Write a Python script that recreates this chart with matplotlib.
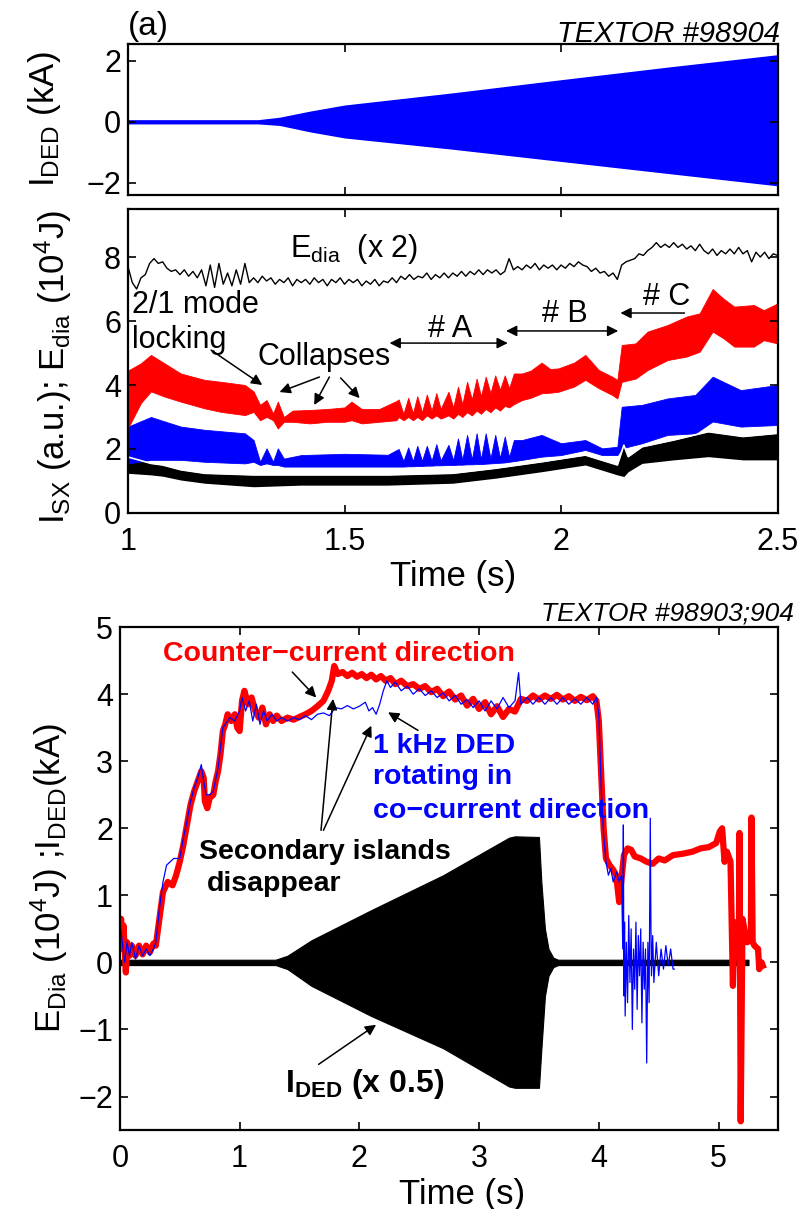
import matplotlib
matplotlib.use("Agg")
import matplotlib.pyplot as plt
import numpy as np

plt.rcParams['font.family'] = ['Liberation Sans', 'DejaVu Sans']
plt.rcParams['mathtext.fontset'] = 'custom'
plt.rcParams['mathtext.rm'] = 'Liberation Sans'
plt.rcParams['mathtext.bf'] = 'Liberation Sans:bold'
plt.rcParams['mathtext.it'] = 'Liberation Sans:italic'
plt.rcParams['mathtext.default'] = 'regular'

# ---------------- panel (a) top: DED coil current envelope ----------------
ded_t = [1.0, 1.3, 1.35, 1.42, 1.5, 1.75, 2.0, 2.25, 2.5]
ded_hi = [0.07, 0.07, 0.15, 0.35, 0.55, 0.95, 1.38, 1.8, 2.2]
ded_lo = [-0.07, -0.07, -0.12, -0.33, -0.53, -0.9, -1.3, -1.7, -2.1]

# ---------------- panel (a) middle: E_dia (x2) and SX channels ----------------
# E_dia read every 10 ms from 1.00 s to 2.50 s
edia_t = np.linspace(1.0, 2.5, 151)
edia_v = [7.7, 7.2, 7.0, 7.35, 7.45, 7.8, 7.95, 7.8, 7.85, 7.65,
          7.55, 7.6, 7.45, 7.6, 7.4, 7.55, 7.35, 7.6, 7.1, 7.75,
          7.05, 7.8, 7.15, 7.5, 7.1, 7.6, 7.15, 7.8, 7.2, 7.35,
          7.2, 7.4, 7.25, 7.35, 7.15, 7.3, 7.2, 7.35, 7.1, 7.3,
          7.2, 7.3, 7.15, 7.35, 7.2, 7.3, 7.1, 7.3, 7.2, 7.35,
          7.15, 7.3, 7.2, 7.3, 7.1, 7.25, 7.15, 7.3, 7.1, 7.25,
          7.2, 7.35, 7.2, 7.4, 7.3, 7.45, 7.3, 7.4, 7.35, 7.5,
          7.3, 7.45, 7.35, 7.5, 7.35, 7.5, 7.4, 7.55, 7.4, 7.55,
          7.45, 7.6, 7.45, 7.6, 7.5, 7.6, 7.45, 7.55, 7.95, 7.6,
          7.7, 7.6, 7.75, 7.65, 7.8, 7.6, 7.75, 7.65, 7.75, 7.6,
          7.75, 7.65, 7.8, 7.7, 7.85, 7.75, 7.7, 7.55, 7.65, 7.5,
          7.55, 7.4, 7.5, 7.3, 7.75, 7.85, 7.9, 7.95, 8.1, 8.05,
          8.2, 8.3, 8.45, 8.3, 8.4, 8.3, 8.45, 8.3, 8.4, 8.25,
          8.35, 8.2, 8.4, 8.2, 8.1, 8.25, 8.05, 8.2, 8.1, 8.25,
          8.1, 8.3, 8.1, 8.2, 7.85, 8.15, 8.0, 8.15, 7.95, 8.1,
          8.05]

sx1_t = [1.0, 1.03, 1.053, 1.084, 1.122, 1.177, 1.215, 1.27, 1.29, 1.305, 1.32,
         1.335, 1.346, 1.36, 1.38, 1.42, 1.46, 1.50, 1.516, 1.54, 1.58, 1.62,
         1.625, 1.636, 1.647, 1.658, 1.668, 1.679, 1.69, 1.701, 1.712, 1.722,
         1.74, 1.751, 1.762, 1.772, 1.783, 1.794, 1.805, 1.815, 1.826, 1.837,
         1.848, 1.859, 1.87, 1.88, 1.891, 1.91, 1.93, 1.955, 1.975, 1.994, 2.03,
         2.056, 2.087, 2.118, 2.13, 2.14, 2.172, 2.2, 2.246, 2.29, 2.32, 2.35,
         2.375, 2.4, 2.445, 2.468, 2.5]
sx1_hi = [4.45, 4.68, 4.94, 4.68, 4.36, 4.16, 4.10, 4.0, 3.8, 3.38, 3.53,
          3.11, 3.48, 3.0, 3.2, 3.22, 3.25, 3.3, 3.48, 3.25, 3.25, 3.5,
          3.55, 3.1, 3.6, 3.12, 3.65, 3.15, 3.7, 3.2, 3.75, 3.25,
          3.79, 3.3, 3.95, 3.4, 4.1, 3.55, 4.2, 3.65, 4.26, 3.75,
          4.3, 3.85, 4.3, 3.9, 4.36, 4.36, 4.45, 4.7, 4.5, 4.52, 4.7,
          4.94, 4.47, 4.26, 4.16, 5.25, 5.3, 5.67, 5.875, 6.14, 6.24, 7.0,
          6.7, 6.45, 6.5, 6.34, 6.55]
sx1_lo = [2.65, 3.44, 3.8, 3.64, 3.48, 3.27, 3.16, 3.06, 3.16, 2.9, 3.0,
          2.9, 2.64, 2.85, 2.85, 2.8, 2.85, 2.85, 2.9, 2.8, 2.85, 2.9,
          3.0, 2.9, 3.0, 2.9, 3.0, 2.9, 3.05, 2.95, 3.05, 2.95,
          3.05, 2.95, 3.1, 3.0, 3.15, 3.05, 3.2, 3.1, 3.25, 3.15,
          3.3, 3.2, 3.35, 3.3, 3.4, 3.53, 3.6, 3.74, 3.76, 3.79, 3.95,
          4.16, 3.9, 3.69, 3.58, 4.1, 4.2, 4.47, 4.78, 4.89, 5.04, 5.67,
          5.46, 5.2, 5.2, 5.4, 5.3]

sx2_t = [1.0, 1.053, 1.122, 1.177, 1.27, 1.29, 1.305, 1.32, 1.335, 1.346, 1.36,
         1.40, 1.50, 1.60, 1.625, 1.636, 1.647, 1.658, 1.668, 1.679, 1.69,
         1.701, 1.712, 1.722, 1.74, 1.751, 1.762, 1.772, 1.783, 1.794, 1.805,
         1.815, 1.826, 1.837, 1.848, 1.859, 1.87, 1.88, 1.891, 1.91, 1.955,
         2.0, 2.056, 2.095, 2.13, 2.14, 2.187, 2.246, 2.31, 2.35, 2.415, 2.5]
sx2_hi = [2.7, 3.0, 2.7, 2.6, 2.49, 2.28, 1.6, 2.02, 1.6, 2.02, 1.7,
          1.81, 1.85, 1.82, 2.0, 1.62, 2.05, 1.62, 2.1, 1.63, 2.1,
          1.63, 2.15, 1.64, 2.13, 1.65, 2.33, 1.66, 2.44, 1.67, 2.49,
          1.68, 2.49, 1.7, 2.44, 1.72, 2.39, 1.75, 2.28, 2.28, 2.44,
          2.18, 2.28, 2.02, 2.07, 3.32, 3.38, 3.58, 3.69, 4.26, 3.84, 4.0]
sx2_lo = [1.55, 1.66, 1.66, 1.6, 1.55, 1.6, 1.5, 1.55, 1.5, 1.5, 1.45,
          1.45, 1.45, 1.45, 1.45, 1.45, 1.46, 1.46, 1.47, 1.47, 1.48,
          1.48, 1.49, 1.49, 1.5, 1.5, 1.51, 1.51, 1.52, 1.52, 1.53,
          1.53, 1.54, 1.55, 1.56, 1.57, 1.58, 1.6, 1.62, 1.66, 1.76,
          1.81, 1.97, 1.81, 1.81, 2.02, 2.18, 2.44, 2.49, 2.86, 2.7, 2.75]

sx3_t = [1.0, 1.053, 1.08, 1.122, 1.177, 1.29, 1.4, 1.6, 1.75, 1.85, 1.955,
         2.056, 2.13, 2.145, 2.155, 2.187, 2.26, 2.34, 2.42, 2.5]
sx3_hi = [1.75, 1.55, 1.5, 1.35, 1.24, 1.19, 1.19, 1.19, 1.24, 1.4, 1.6,
          1.81, 1.5, 2.12, 1.76, 2.07, 2.28, 2.54, 2.39, 2.49]
sx3_lo = [1.24, 1.19, 1.15, 1.03, 0.93, 0.82, 0.87, 0.87, 0.93, 1.09, 1.29,
          1.5, 1.19, 1.14, 1.29, 1.55, 1.66, 1.76, 1.66, 1.66]

# ---------------- bottom panel: E_dia for two shots and I_DED (x0.5) ----------------
ctr_t = [0.00, 0.01, 0.02, 0.03, 0.05, 0.06, 0.08, 0.10, 0.13, 0.16, 0.19, 0.22,
         0.25, 0.28, 0.30, 0.33, 0.36, 0.40, 0.44, 0.47, 0.50, 0.53, 0.56, 0.59,
         0.62, 0.65, 0.68, 0.70, 0.71, 0.73, 0.75, 0.78, 0.80, 0.82, 0.84, 0.86,
         0.88, 0.90, 0.93, 0.96, 0.98, 1.00, 1.02, 1.04, 1.07, 1.10, 1.13, 1.16,
         1.19, 1.22, 1.25, 1.28, 1.31, 1.35, 1.40, 1.45, 1.50, 1.55, 1.60, 1.65,
         1.70, 1.74, 1.77, 1.79, 1.82, 1.86, 1.90, 1.94, 1.98, 2.02, 2.06, 2.10,
         2.14, 2.18, 2.22, 2.26, 2.30, 2.35, 2.40, 2.45, 2.50, 2.55, 2.60, 2.65,
         2.70, 2.75, 2.80, 2.85, 2.90, 2.95, 3.00, 3.05, 3.10, 3.15, 3.20, 3.25,
         3.30, 3.35, 3.40, 3.45, 3.50, 3.55, 3.60, 3.65, 3.70, 3.75, 3.80, 3.85,
         3.90, 3.95, 3.98, 4.00, 4.02, 4.04, 4.06, 4.09, 4.12, 4.145, 4.17, 4.19,
         4.21, 4.24, 4.27, 4.30, 4.35, 4.40, 4.45, 4.50, 4.55, 4.62, 4.70, 4.78,
         4.85, 4.92, 4.98, 5.01, 5.03, 5.05, 5.07, 5.10, 5.12, 5.135, 5.15, 5.17,
         5.175, 5.185, 5.20, 5.22, 5.24, 5.27, 5.275, 5.285, 5.30, 5.33, 5.34,
         5.36, 5.37]
ctr_v = [0.35, 0.65, 0.2, 0.55, -0.15, 0.3, 0.1, 0.25, 0.1, 0.25, 0.12, 0.25,
         0.15, 0.28, 0.25, 0.65, 1.05, 1.2, 1.15, 1.3, 1.5, 1.75, 2.05, 2.35,
         2.55, 2.7, 2.85, 2.75, 2.4, 2.3, 2.45, 2.5, 2.7, 2.85, 3.1, 3.45,
         3.55, 3.7, 3.6, 3.7, 3.5, 3.45, 3.9, 4.05, 3.85, 3.95, 3.75, 3.65,
         3.8, 3.55, 3.7, 3.6, 3.68, 3.6, 3.65, 3.62, 3.66, 3.7, 3.75, 3.82,
         3.9, 4.05, 4.2, 4.42, 4.3, 4.33, 4.27, 4.32, 4.26, 4.3, 4.24, 4.29,
         4.22, 4.27, 4.2, 4.24, 4.15, 4.2, 4.12, 4.15, 4.08, 4.12, 4.03, 4.08,
         3.97, 4.04, 3.92, 3.98, 3.83, 3.93, 3.78, 3.88, 3.7, 3.82, 3.66, 3.78,
         3.74, 3.93, 3.9, 3.98, 3.92, 3.98, 3.93, 3.99, 3.92, 3.97, 3.9, 3.96,
         3.91, 3.97, 3.9, 3.6, 2.8, 2.0, 1.55, 1.45, 1.38, 1.3, 0.9, 1.25,
         1.6, 1.7, 1.68, 1.58, 1.55, 1.5, 1.47, 1.55, 1.52, 1.6, 1.62, 1.65,
         1.7, 1.72, 1.78, 1.95, 2.0, 1.5, 1.65, 1.5, -0.35, 0.6, 0.1, 0.3,
         1.93, -2.37, 0.65, 0.45, 0.3, 0.4, 2.16, 0.3, 0.25, 0.2, -0.1,
         0.0, -0.05]

co_t = [0.00, 0.02, 0.04, 0.06, 0.08, 0.10, 0.13, 0.16, 0.19, 0.22, 0.25, 0.28,
        0.30, 0.33, 0.36, 0.39, 0.45, 0.50, 0.53, 0.56, 0.59, 0.62, 0.65, 0.68,
        0.70, 0.72, 0.75, 0.78, 0.82, 0.86, 0.88, 0.92, 0.96, 1.00, 1.02, 1.05,
        1.08, 1.11, 1.14, 1.17, 1.20, 1.23, 1.27, 1.31, 1.35, 1.40, 1.45, 1.50,
        1.55, 1.60, 1.65, 1.70, 1.75, 1.80, 1.85, 1.90, 1.95, 2.00, 2.05, 2.08,
        2.11, 2.14, 2.17, 2.20, 2.23, 2.26, 2.30, 2.35, 2.40, 2.45, 2.50, 2.55,
        2.60, 2.65, 2.70, 2.75, 2.80, 2.85, 2.90, 2.95, 3.00, 3.05, 3.10, 3.15,
        3.20, 3.25, 3.30, 3.33, 3.35, 3.40, 3.45, 3.50, 3.55, 3.60, 3.65, 3.70,
        3.75, 3.80, 3.85, 3.90, 3.95, 3.98, 4.00, 4.02, 4.04, 4.06, 4.08, 4.10,
        4.12, 4.15, 4.17, 4.19, 4.20, 4.205, 4.21, 4.215, 4.22, 4.23, 4.24, 4.25,
        4.26, 4.27, 4.28, 4.29, 4.30, 4.31, 4.32, 4.33, 4.34, 4.35, 4.36, 4.37,
        4.38, 4.39, 4.40, 4.41, 4.42, 4.43, 4.435, 4.44, 4.45, 4.46, 4.48, 4.50,
        4.52, 4.54, 4.56, 4.58, 4.60, 4.62, 4.63]
co_v = [0.6, 0.3, 0.0, 0.3, 0.1, 0.3, 0.05, 0.25, 0.1, 0.2, 0.1, 0.2,
        0.3, 0.8, 1.2, 1.45, 1.55, 1.55, 1.85, 2.1, 2.4, 2.6, 2.75, 2.95,
        2.7, 2.5, 2.5, 2.55, 2.9, 3.5, 3.55, 3.65, 3.6, 3.75, 3.95, 3.75,
        3.9, 3.6, 3.85, 3.55, 3.75, 3.6, 3.7, 3.6, 3.65, 3.6, 3.65, 3.62,
        3.68, 3.62, 3.7, 3.72, 3.68, 3.8, 3.78, 3.83, 3.78, 3.82, 3.88, 3.75,
        3.8, 3.7, 3.85, 4.05, 4.2, 4.1, 4.18, 4.05, 4.12, 4.0, 4.08, 3.98,
        4.05, 3.95, 4.02, 3.9, 3.98, 3.85, 3.92, 3.8, 3.9, 3.75, 3.9, 3.78,
        3.95, 3.8, 3.9, 4.32, 3.85, 3.95, 3.85, 3.95, 3.85, 3.95, 3.85, 3.95,
        3.85, 3.93, 3.85, 3.95, 3.85, 3.95, 3.7, 2.6, 1.9, 1.5, 1.3, 1.4,
        1.2, 1.35, 1.2, 1.3, 0.2, 2.05, -0.5, 0.6, -0.8, 0.3, -0.6, 0.7,
        -0.3, 0.5, -1.0, 0.2, -0.4, 0.6, -0.7, 0.4, -0.2, 0.5, -0.9, 0.3,
        -0.4, 0.2, -1.5, 0.3, -0.6, 2.15, 0.6, -0.2, 0.4, -0.3, 0.3, -0.2,
        0.2, -0.1, 0.25, -0.05, 0.2, -0.1, -0.1]

ided_t = [0.0, 1.3, 1.4, 1.6, 2.1, 2.7, 3.25, 3.3, 3.5, 3.52, 3.55, 3.58, 3.62, 3.66, 5.25]
ided_hi = [0.04, 0.04, 0.1, 0.33, 0.78, 1.3, 1.86, 1.88, 1.87, 1.2, 0.5, 0.2, 0.07, 0.04, 0.04]
ided_lo = [-0.04, -0.04, -0.1, -0.35, -0.8, -1.28, -1.85, -1.87, -1.87, -1.3, -0.5, -0.2, -0.07, -0.04, -0.04]

BLUE = '#0000ff'
RED = '#ff0000'
TICK_FS = 22
LABEL_FS = 25
NOTE_FS = 22

fig = plt.figure(figsize=(8.1, 12.09), dpi=100)


def style(ax):
    for s in ax.spines.values():
        s.set_linewidth(1.6)
    ax.tick_params(direction='in', length=6, width=1.2, top=True, right=True,
                   labelsize=TICK_FS)
    ax.tick_params(axis='x', pad=10)
    ax.tick_params(axis='y', pad=5)


# ---- top ----
ax1 = fig.add_axes([0.158, 0.8387, 0.802, 0.1249])
ax1.fill_between(ded_t, ded_lo, ded_hi, color=BLUE, lw=0)
ax1.set_xlim(1, 2.5)
ax1.set_ylim(-2.4, 2.55)
ax1.set_xticks([1, 1.5, 2, 2.5])
ax1.set_xticklabels([])
ax1.set_yticks([-2, 0, 2])
ax1.set_yticklabels(['\u22122', '0', '2'])
style(ax1)
ax1.set_ylabel('I$_{DED}$ (kA)', fontsize=LABEL_FS)
ax1.yaxis.set_label_coords(-0.1, 0.5)
fig.text(0.158, 0.978, '(a)', fontsize=24, ha='left', va='center')
fig.text(0.963, 0.972, 'TEXTOR #98904', fontsize=21, style='italic',
         ha='right', va='center')

# ---- middle ----
ax2 = fig.add_axes([0.158, 0.5757, 0.802, 0.2514])
ax2.fill_between(sx3_t, sx3_lo, sx3_hi, color='k', lw=0)
ax2.plot(sx3_t, sx3_hi, color='white', lw=1.2)
ax2.fill_between(sx2_t, sx2_lo, sx2_hi, color=BLUE, lw=0.6, edgecolor=BLUE)
ax2.fill_between(sx1_t, sx1_lo, sx1_hi, color=RED, lw=0.6, edgecolor=RED)
ax2.plot(edia_t, edia_v, color='k', lw=1)
ax2.set_xlim(1, 2.5)
ax2.set_ylim(0, 9.5)
ax2.set_xticks([1, 1.5, 2, 2.5])
ax2.set_xticklabels(['1', '1.5', '2', '2.5'])
ax2.set_yticks([0, 2, 4, 6, 8])
style(ax2)
ax2.set_xlabel('Time (s)', fontsize=LABEL_FS, labelpad=2)
ax2.set_ylabel('I$_{SX}$ (a.u.); E$_{dia}$ (10$^{4}$J)', fontsize=LABEL_FS)
ax2.yaxis.set_label_coords(-0.083, 0.48)

ax2.text(1.373, 8.0, 'E$_{dia}$  (x 2)', fontsize=NOTE_FS, ha='left', va='baseline')
ax2.text(1.01, 6.25, '2/1 mode', fontsize=NOTE_FS, ha='left', va='baseline')
ax2.text(1.01, 5.16, 'locking', fontsize=NOTE_FS, ha='left', va='baseline')
ax2.text(1.299, 4.62, 'Collapses', fontsize=NOTE_FS, ha='left', va='baseline')
ax2.text(1.743, 5.5, '# A', fontsize=NOTE_FS, ha='center', va='baseline')
ax2.text(2.009, 5.97, '# B', fontsize=NOTE_FS, ha='center', va='baseline')
ax2.text(2.243, 6.5, '# C', fontsize=NOTE_FS, ha='center', va='baseline')

arr = dict(arrowstyle='-|>', color='k', lw=1.1, mutation_scale=16, shrinkA=0, shrinkB=0)
arr2 = dict(arrowstyle='<|-|>', color='k', lw=1.1, mutation_scale=16, shrinkA=0, shrinkB=0)
ax2.annotate('', xy=(1.877, 5.31), xytext=(1.604, 5.31), arrowprops=arr2)
ax2.annotate('', xy=(2.132, 5.69), xytext=(1.873, 5.69), arrowprops=arr2)
ax2.annotate('', xy=(2.137, 6.25), xytext=(2.285, 6.25), arrowprops=arr)
ax2.annotate('', xy=(1.31, 4.0), xytext=(1.192, 5.09), arrowprops=arr)
ax2.annotate('', xy=(1.35, 3.78), xytext=(1.442, 4.25), arrowprops=arr)
ax2.annotate('', xy=(1.43, 3.375), xytext=(1.465, 4.25), arrowprops=arr)
ax2.annotate('', xy=(1.535, 3.59), xytext=(1.491, 4.22), arrowprops=arr)

# ---- bottom ----
ax3 = fig.add_axes([0.148, 0.0653, 0.813, 0.416])
ax3.plot(ctr_t, ctr_v, color=RED, lw=4.5)
ax3.plot(co_t, co_v, color=BLUE, lw=0.9)
ax3.fill_between(ided_t, ided_lo, ided_hi, color='k', lw=0.8, edgecolor='k')
ax3.set_xlim(0, 5.5)
ax3.set_ylim(-2.5, 5)
ax3.set_xticks([0, 1, 2, 3, 4, 5])
ax3.set_yticks([-2, -1, 0, 1, 2, 3, 4, 5])
ax3.set_yticklabels(['\u22122', '\u22121', '0', '1', '2', '3', '4', '5'])
style(ax3)
ax3.set_xlabel('Time (s)', fontsize=LABEL_FS)
ax3.xaxis.set_label_coords(0.52, -0.095)
ax3.set_ylabel('E$_{Dia}$ (10$^{4}$J) ;I$_{DED}$(kA)', fontsize=LABEL_FS)
ax3.yaxis.set_label_coords(-0.075, 0.5)
fig.text(0.98, 0.487, 'TEXTOR #98903;904', fontsize=19, style='italic',
         ha='right', va='baseline')

ax3.text(0.36, 4.49, 'Counter\u2212current direction', color=RED, fontsize=20.5,
         fontweight='bold', ha='left', va='baseline')
blue_lines = ['1 kHz DED', 'rotating in', 'co\u2212current direction']
for line, yb in zip(blue_lines, [3.13, 2.66, 2.16]):
    ax3.text(2.11, yb, line, color=BLUE, fontsize=20.5, fontweight='bold',
             ha='left', va='baseline')
ax3.text(0.66, 1.54, 'Secondary islands', fontsize=20.5, fontweight='bold',
         ha='left', va='baseline')
ax3.text(0.73, 1.06, 'disappear', fontsize=20.5, fontweight='bold',
         ha='left', va='baseline')
ax3.text(1.38, -1.94, r'$\mathbf{I_{DED}}$ (x 0.5)', fontsize=23, fontweight='bold',
         ha='left', va='baseline')

ax3.annotate('', xy=(1.64, 3.95), xytext=(1.44, 4.33), arrowprops=arr)
ax3.annotate('', xy=(2.24, 3.73), xytext=(2.49, 3.46), arrowprops=arr)
ax3.annotate('', xy=(1.78, 3.93), xytext=(1.68, 1.97), arrowprops=arr)
ax3.annotate('', xy=(2.10, 3.53), xytext=(1.70, 1.97), arrowprops=arr)
ax3.annotate('', xy=(2.14, -0.93), xytext=(1.66, -1.52), arrowprops=arr)

fig.savefig('out.png', dpi=100)
